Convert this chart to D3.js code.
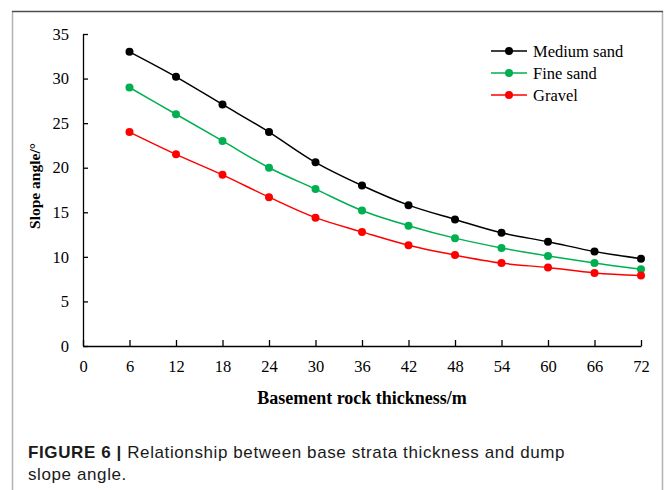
<!DOCTYPE html>
<html>
<head>
<meta charset="utf-8">
<script src="https://cdn.jsdelivr.net/npm/d3@7"></script>
<style>
  body { margin: 0; background: #fff; }
</style>
</head>
<body>
<div id="chart-area"></div>
<script>
// Data
var thickness = [6, 12, 18, 24, 30, 36, 42, 48, 54, 60, 66, 72];
var mediumSand = [33, 30.2, 27.1, 24, 20.6, 18, 15.8, 14.2, 12.7, 11.7, 10.6, 9.8];
var fineSand = [29, 26, 23, 20, 17.6, 15.2, 13.5, 12.1, 11.0, 10.1, 9.3, 8.6];
var gravel = [24, 21.5, 19.2, 16.7, 14.4, 12.8, 11.3, 10.2, 9.3, 8.8, 8.2, 7.9];
var xTicks = [0, 6, 12, 18, 24, 30, 36, 42, 48, 54, 60, 66, 72];
var yTicks = [0, 5, 10, 15, 20, 25, 30, 35];

var series = [
  { name: "Medium sand", values: mediumSand, color: "#000000" },
  { name: "Fine sand", values: fineSand, color: "#00b050" },
  { name: "Gravel", values: gravel, color: "#ff0000" }
];

var serif = "'Liberation Serif', 'Times New Roman', serif",
    sans = "'Liberation Sans', Arial, sans-serif";

var W = 665, H = 490;
var margin = { left: 83, top: 34 },
    width = 641 - margin.left,
    height = 346 - margin.top;

var svg = d3.select("#chart-area")
    .append("svg")
    .attr("width", W)
    .attr("height", H)
    .style("font-family", serif);

// outer frame: dark top edge, light side edges
svg.append("line")
    .attr("x1", 12.5).attr("x2", 12.5).attr("y1", 11).attr("y2", H)
    .attr("stroke", "#b3b3b3").attr("stroke-width", 1.5);
svg.append("line")
    .attr("x1", 662.5).attr("x2", 662.5).attr("y1", 11).attr("y2", H)
    .attr("stroke", "#b3b3b3").attr("stroke-width", 1.5);
svg.append("line")
    .attr("x1", 12).attr("x2", 663).attr("y1", 11.5).attr("y2", 11.5)
    .attr("stroke", "#4d4d4d").attr("stroke-width", 1.3);

var g = svg.append("g")
    .attr("transform", "translate(" + margin.left + "," + margin.top + ")");

// Scales
var x = d3.scaleLinear().domain([0, 72]).range([0, width]);
var y = d3.scaleLinear().domain([0, 35]).range([height, 0]);

// X-axis
g.append("g")
    .attr("transform", "translate(0," + height + ")")
    .call(d3.axisBottom(x).tickValues(xTicks).tickSizeInner(-6).tickSizeOuter(0).tickPadding(14));

// Y-axis
g.append("g")
    .call(d3.axisLeft(y).tickValues(yTicks).tickSizeInner(-5).tickSizeOuter(0).tickPadding(14));

g.selectAll(".domain, .tick line")
    .attr("stroke", "#000")
    .attr("stroke-width", 1.3);
g.selectAll(".tick text")
    .style("font-family", serif)
    .attr("font-size", "16.5px")
    .attr("fill", "#000");

// Axis labels
g.append("text")
    .attr("x", 362 - margin.left)
    .attr("y", 404 - margin.top)
    .attr("text-anchor", "middle")
    .attr("font-size", "18px")
    .attr("font-weight", "bold")
    .text("Basement rock thickness/m");

g.append("text")
    .attr("transform", "rotate(-90)")
    .attr("x", -(186 - margin.top))
    .attr("y", 40 - margin.left)
    .attr("text-anchor", "middle")
    .attr("font-size", "15.5px")
    .attr("font-weight", "bold")
    .text("Slope angle/°");

// Lines
var line = d3.line()
    .curve(d3.curveCatmullRom.alpha(0.5))
    .x(function(d, i){ return x(thickness[i]); })
    .y(function(d){ return y(d); });

series.forEach(function(s) {
    g.append("path")
        .attr("d", line(s.values))
        .attr("fill", "none")
        .attr("stroke", s.color)
        .attr("stroke-width", 1.5);

    g.selectAll(null)
        .data(s.values)
        .enter()
        .append("circle")
        .attr("cx", function(d, i){ return x(thickness[i]); })
        .attr("cy", function(d){ return y(d); })
        .attr("r", 4)
        .attr("fill", s.color);
});

// Legend
var legend = svg.append("g")
    .attr("transform", "translate(491,51)");

series.forEach(function(s, i) {
    var row = legend.append("g").attr("transform", "translate(0," + (i * 22) + ")");
    row.append("line")
        .attr("x1", 0).attr("x2", 36)
        .attr("stroke", s.color)
        .attr("stroke-width", 1.5);
    row.append("circle")
        .attr("cx", 18).attr("r", 4)
        .attr("fill", s.color);
    row.append("text")
        .attr("x", 42)
        .attr("dy", "0.35em")
        .attr("font-size", "16.5px")
        .text(s.name);
});

// Caption
var cap1 = svg.append("text")
    .attr("x", 28)
    .attr("y", 458)
    .style("font-family", sans)
    .style("letter-spacing", "0.6px")
    .attr("font-size", "17px")
    .attr("fill", "#1a1a1a");
cap1.append("tspan").attr("font-weight", "bold").text("FIGURE 6 | ");
cap1.append("tspan").text("Relationship between base strata thickness and dump");

svg.append("text")
    .attr("x", 28)
    .attr("y", 480)
    .style("font-family", sans)
    .style("letter-spacing", "0.6px")
    .attr("font-size", "17px")
    .attr("fill", "#1a1a1a")
    .text("slope angle.");
</script>
</body>
</html>
